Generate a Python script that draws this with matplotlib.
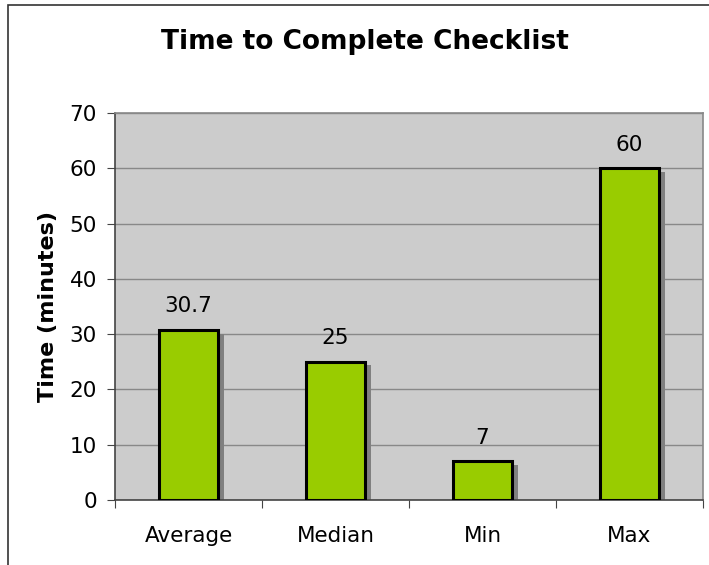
import matplotlib.pyplot as plt
from matplotlib.patches import Rectangle

categories = ['Average', 'Median', 'Min', 'Max']
values = [30.7, 25, 7, 60]
labels = ['30.7', '25', '7', '60']
yticks = [0, 10, 20, 30, 40, 50, 60, 70]

fig = plt.figure(figsize=(7.09, 5.65), dpi=100)
fig.patches.append(Rectangle((8 / 709, -0.1), 1.2, (565 - 5) / 565 + 0.1,
                             transform=fig.transFigure, fill=False,
                             edgecolor='#333333', linewidth=1.2))
ax = fig.add_axes([115 / 709, 65 / 565, 588 / 709, 387 / 565])
ax.set_facecolor('#CCCCCC')

x = list(range(len(categories)))
# shadow
ax.bar([i + 0.04 for i in x], [v - 0.6 for v in values], width=0.4,
       color='#808080', zorder=2)
ax.bar(x, values, width=0.4, color='#99CC00', edgecolor='black',
       linewidth=2.2, zorder=3)
for i, v in enumerate(values):
    ax.text(i, v + 4.3, labels[i], ha='center', va='center', fontsize=15.5)

ax.set_xlim(-0.5, 3.5)
ax.set_ylim(0, 70)
ax.set_yticks(yticks)
ax.tick_params(axis='y', labelsize=15.5, length=6, color='#444444', pad=7)
ax.yaxis.grid(True, color='#888888', linewidth=1)
ax.set_axisbelow(True)

ax.set_xticks([-0.5, 0.5, 1.5, 2.5, 3.5])
ax.set_xticklabels([])
ax.set_xticks(x, minor=True)
ax.set_xticklabels(categories, minor=True)
ax.tick_params(axis='x', which='major', length=6, color='#444444')
ax.tick_params(axis='x', which='minor', length=0, labelsize=15.5, pad=19)

for s in ['left', 'bottom']:
    ax.spines[s].set_color('#444444')
    ax.spines[s].set_linewidth(1.2)
for s in ['top', 'right']:
    ax.spines[s].set_color('#888888')
    ax.spines[s].set_linewidth(1.2)

ax.set_ylabel('Time (minutes)', fontsize=16, fontweight='bold', labelpad=8)
fig.text(365 / 709, 1 - 42 / 565, 'Time to Complete Checklist',
         ha='center', va='center', fontsize=19, fontweight='bold')

fig.savefig('out.png', dpi=100)
